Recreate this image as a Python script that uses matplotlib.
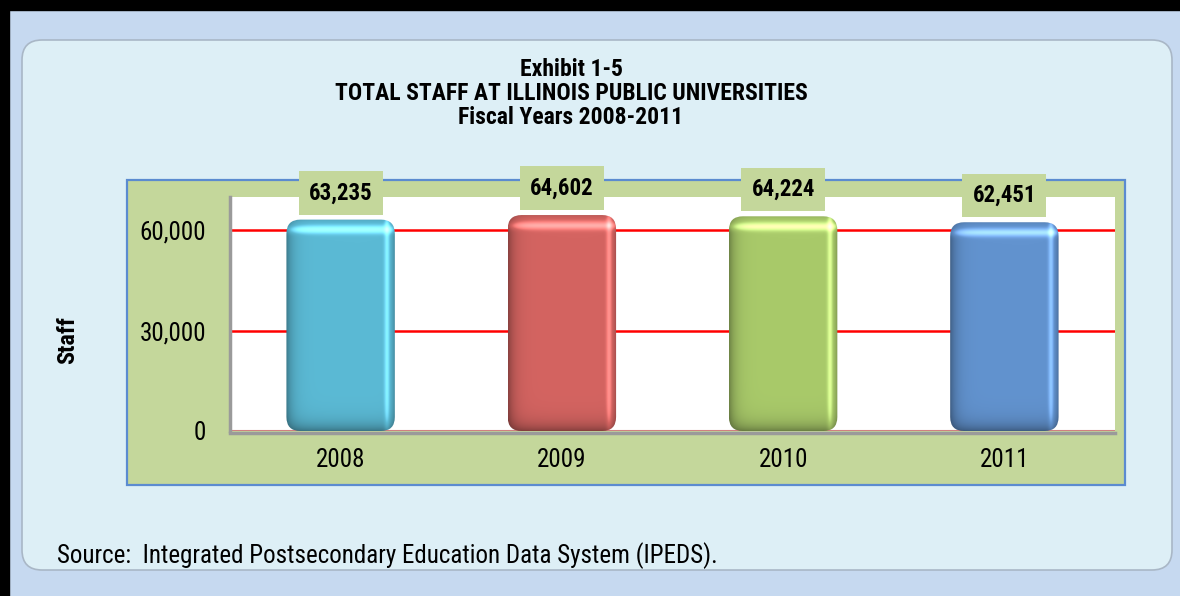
import numpy as np
import matplotlib
matplotlib.use("Agg")
import matplotlib.pyplot as plt
from matplotlib.patches import FancyBboxPatch, Rectangle
from matplotlib.transforms import Affine2D
from matplotlib import font_manager

years = ["2008", "2009", "2010", "2011"]
staff = [63235, 64602, 64224, 62451]
value_labels = ["63,235", "64,602", "64,224", "62,451"]
yticks = [0, 30000, 60000]
ytick_labels = ["0", "30,000", "60,000"]
bar_colors = ["#5BBAD5", "#D46461", "#A9CA6A", "#6293CF"]
title_lines = ["Exhibit 1-5", "TOTAL STAFF AT ILLINOIS PUBLIC UNIVERSITIES", "Fiscal Years 2008-2011"]
ylabel = "Staff"
source = "Source:  Integrated Postsecondary Education Data System (IPEDS)."

names = {f.name for f in font_manager.fontManager.ttflist}
fam = None
for cand in ["Liberation Sans Narrow", "Roboto Condensed", "DejaVu Sans Condensed", "Liberation Sans"]:
    if cand in names:
        fam = cand
        break
if fam is None:
    fam = "DejaVu Sans"
plt.rcParams["font.family"] = [fam, "DejaVu Sans"]

W, H = 1180, 596
fig = plt.figure(figsize=(W / 100, H / 100), dpi=100)
fig.patch.set_facecolor("#C6D9F0")

def fx(px):
    return px / W

def fy(py):
    return 1 - py / H

pix = Affine2D().scale(1 / W, 1 / H) + fig.transFigure

# black border top & left
fig.patches.append(Rectangle((0, H - 10), W, 10, transform=pix, color="black", zorder=0))
fig.patches.append(Rectangle((0, 0), 9, H, transform=pix, color="black", zorder=0))

# inner rounded panel
panel = FancyBboxPatch((22, H - 570), 1150, 530, boxstyle="round,pad=0,rounding_size=20",
                       transform=pix, facecolor="#DDEFF6", edgecolor="#A9B7C6", linewidth=1.2, zorder=1)
fig.patches.append(panel)

# green plot area with blue border
green = Rectangle((127, H - 485), 998, 305, transform=pix, facecolor="#C4D79B",
                  edgecolor="#5B8BD0", linewidth=1.6, zorder=2)
fig.patches.append(green)

# main axes = white plot area
ax = fig.add_axes([fx(230), fy(431), fx(1115) - fx(230), (431 - 197) / H], zorder=3)
ax.set_facecolor("white")

for v in yticks[1:]:
    ax.axhline(v, color="#FF0000", linewidth=1.8, zorder=1)
ax.axhline(0, color="#D08080", linewidth=1.5, zorder=1)

for s in ["top", "right"]:
    ax.spines[s].set_visible(False)
ax.spines["left"].set_color("#9A9A9A")
ax.spines["left"].set_linewidth(2.5)
ax.spines["bottom"].set_color("#9A9A9A")
ax.spines["bottom"].set_linewidth(2.5)
ax.spines["bottom"].set_position(("outward", 1.5))

ax.set_yticks(yticks)
ax.set_yticklabels(ytick_labels, fontsize=18)
ax.set_xticks(range(len(years)))
ax.set_xticklabels(years, fontsize=18)
ax.tick_params(axis="both", length=0)
ax.tick_params(axis="y", pad=17)
ax.tick_params(axis="x", pad=11)

x = np.arange(len(years))
bw = 0.49
bars = ax.bar(x, staff, width=bw, color=bar_colors, zorder=2)

# glossy rounded bars: shaded image clipped to a rounded patch of each bar
px_x = 0.49 / 109.0
px_y = 70000 / 234.0
r_px = 14
aspect = px_y / px_x

def hex2rgb(h):
    h = h.lstrip("#")
    return np.array([int(h[i:i + 2], 16) / 255 for i in (0, 2, 4)])

nx, ny = 200, 200
u = np.linspace(0, 1, nx)
hshade = 1.0 - 0.35 * np.exp(-u / 0.06) - 0.25 * np.exp(-(1 - u) / 0.03) + 0.18 * np.exp(-((u - 0.93) / 0.025) ** 2)

for b, c in zip(bars, bar_colors):
    b.set_visible(False)
    x0, w, h = b.get_x(), b.get_width(), b.get_height()
    rgb = hex2rgb(c)
    v = np.linspace(0, 1, ny)
    hpix = h / px_y
    vpix = v * hpix
    vshade = 1.0 - 0.35 * np.exp(-vpix / 8.0) + 0.25 * np.exp(-((hpix - vpix - 10) / 4.0) ** 2) - 0.1 * np.exp(-(hpix - vpix) / 2.0)
    shade = np.outer(vshade, hshade)
    img = np.clip(rgb[None, None, :] * shade[:, :, None] + np.clip(shade - 1, 0, None)[:, :, None] * 0.8, 0, 1)
    im = ax.imshow(img, extent=(x0, x0 + w, 0, h), origin="lower", aspect="auto", zorder=2, interpolation="bilinear")
    clip = FancyBboxPatch((x0, 0), w, h, boxstyle="round,pad=0,rounding_size=%f" % (r_px * px_x),
                          mutation_aspect=aspect, transform=ax.transData, facecolor="none", edgecolor="none")
    ax.add_patch(clip)
    im.set_clip_path(clip)

ax.set_xlim(-0.5, len(years) - 0.5)
ax.set_ylim(0, 70000)

for xi, val, lab in zip(x, staff, value_labels):
    ax.annotate(lab, (xi, val), xytext=(0, 11), textcoords="offset points", ha="center", va="bottom",
                fontsize=16.5, fontweight="bold", color="black", annotation_clip=False, zorder=6,
                bbox=dict(boxstyle="square,pad=0.45", facecolor="#C4D79B", edgecolor="none"))

fig.text(fx(68), fy(340), ylabel, rotation=90, ha="center", va="center", fontsize=17.5, fontweight="bold")

ty = [70, 94, 118]
for t, yy in zip(title_lines, ty):
    fig.text(fx(571), fy(yy), t, ha="center", va="center", fontsize=17, fontweight="bold", zorder=5)

fig.text(fx(57), fy(556), source, ha="left", va="center", fontsize=18, zorder=5)

fig.savefig("out.png", dpi=100, facecolor=fig.get_facecolor())
